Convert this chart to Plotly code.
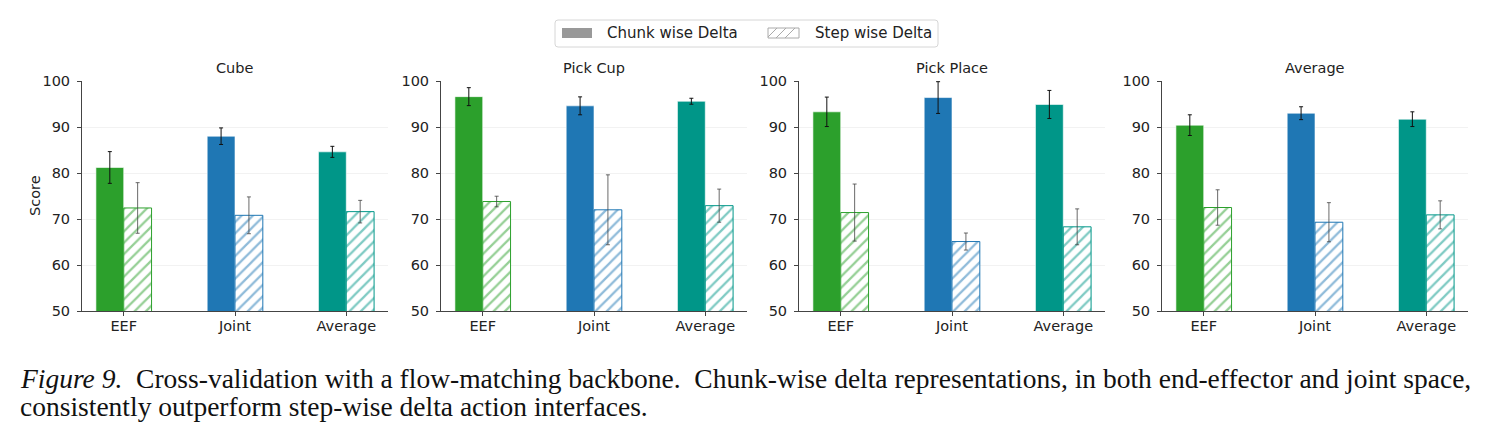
import plotly.graph_objects as go

# ---------------- data ----------------
panels = ["Cube", "Pick Cup", "Pick Place", "Average"]
categories = ["EEF", "Joint", "Average"]
series_names = ["Chunk wise Delta", "Step wise Delta"]

chunk_vals = [
    [81.2, 88.0, 84.6],
    [96.6, 94.6, 95.6],
    [93.3, 96.4, 94.9],
    [90.4, 93.0, 91.7],
]
chunk_err = [
    [3.45, 1.8, 1.2],
    [1.95, 1.95, 0.65],
    [3.2, 3.45, 3.05],
    [2.25, 1.4, 1.6],
]
step_vals = [
    [72.4, 70.8, 71.6],
    [73.8, 72.0, 72.9],
    [71.4, 65.1, 68.3],
    [72.5, 69.3, 70.9],
]
step_err = [
    [5.5, 4.0, 2.45],
    [1.15, 7.6, 3.6],
    [6.2, 1.85, 3.9],
    [3.85, 4.25, 3.05],
]
yticks = [50, 60, 70, 80, 90, 100]
cat_colors = ["#2ca02c", "#1f77b4", "#009688"]

caption_1 = ("<i>Figure 9.</i>&nbsp;&nbsp;Cross-validation with a flow-matching backbone.&nbsp;&nbsp;"
             "Chunk-wise delta representations, in both end-effector and joint space,")
caption_2 = "consistently outperform step-wise delta action interfaces."

# ---------------- layout geometry ----------------
W, H = 1495, 438
lefts = [82, 441, 799, 1162]
pw = 306
y_dom = [1 - 311 / H, 1 - 81 / H]
font_family = "DejaVu Sans"
txt = "#222"

fig = go.Figure()

for i, name in enumerate(panels):
    xa = "x" if i == 0 else f"x{i+1}"
    ya = "y" if i == 0 else f"y{i+1}"
    fig.add_trace(go.Bar(
        x=categories, y=chunk_vals[i], xaxis=xa, yaxis=ya, name=series_names[0],
        marker=dict(color=cat_colors, line=dict(color="rgba(255,255,255,0.6)", width=1)),
        error_y=dict(type="data", array=chunk_err[i], color="#111", thickness=1, width=2),
        showlegend=False, offsetgroup="a",
    ))
    fig.add_trace(go.Bar(
        x=categories, y=step_vals[i], xaxis=xa, yaxis=ya, name=series_names[1],
        marker=dict(color="white", line=dict(color=cat_colors, width=1),
                    pattern=dict(shape="/", fgcolor=cat_colors, bgcolor="white",
                                 size=8, solidity=0.28, fillmode="overlay")),
        error_y=dict(type="data", array=step_err[i], color="#444", thickness=0.8, width=2),
        showlegend=False, offsetgroup="b",
    ))
    dom = [lefts[i] / W, (lefts[i] + pw) / W]
    axis_common = dict(showline=True, linecolor="#444", linewidth=1, automargin=False,
                       ticks="outside", ticklen=4, tickcolor="#444",
                       tickfont=dict(family=font_family, size=14.5, color=txt))
    fig.layout[("xaxis" if i == 0 else f"xaxis{i+1}")] = dict(
        domain=dom, anchor=ya, type="category", range=[-0.375, 2.375],
        showgrid=False, ticklabelstandoff=-2, **axis_common)
    fig.layout[("yaxis" if i == 0 else f"yaxis{i+1}")] = dict(
        domain=y_dom, anchor=xa, range=[50, 100], tickvals=yticks,
        showgrid=True, gridcolor="#f2f2f2", gridwidth=1, zeroline=False,
        ticklabelstandoff=4, **axis_common)
    fig.add_annotation(x=(lefts[i] + pw / 2) / W, y=1 - 68 / H, xref="paper", yref="paper",
                       text=name, showarrow=False, xanchor="center", yanchor="middle",
                       font=dict(family=font_family, size=14.5, color=txt))

fig.add_annotation(x=35 / W, y=(y_dom[0] + y_dom[1]) / 2, xref="paper", yref="paper",
                   text="Score", textangle=-90, showarrow=False, xanchor="center",
                   yanchor="middle", font=dict(family=font_family, size=14.5, color=txt))

# ---------------- legend (drawn in paper coordinates) ----------------
def px(xp):
    return xp / W


def py(yp):
    return 1 - yp / H


lx0, lx1, ly0, ly1, r = 555, 938, 20, 47, 3
box_path = (f"M {px(lx0 + r)},{py(ly0)} L {px(lx1 - r)},{py(ly0)} "
            f"Q {px(lx1)},{py(ly0)} {px(lx1)},{py(ly0 + r)} L {px(lx1)},{py(ly1 - r)} "
            f"Q {px(lx1)},{py(ly1)} {px(lx1 - r)},{py(ly1)} L {px(lx0 + r)},{py(ly1)} "
            f"Q {px(lx0)},{py(ly1)} {px(lx0)},{py(ly1 - r)} L {px(lx0)},{py(ly0 + r)} "
            f"Q {px(lx0)},{py(ly0)} {px(lx0 + r)},{py(ly0)} Z")
fig.add_shape(type="path", path=box_path, xref="paper", yref="paper",
              line=dict(color="#d6d6d6", width=1), fillcolor="rgba(255,255,255,0.9)", layer="above")

sw_y0, sw_y1 = 28, 38
fig.add_shape(type="rect", xref="paper", yref="paper", x0=px(562), x1=px(592), y0=py(sw_y1), y1=py(sw_y0),
              fillcolor="#999999", line=dict(width=0), layer="above")
fig.add_shape(type="rect", xref="paper", yref="paper", x0=px(768), x1=px(799), y0=py(sw_y1), y1=py(sw_y0),
              fillcolor="white", line=dict(color="#aaaaaa", width=1), layer="above")
for k in range(4):
    xs = 768 + k * 9
    xa0 = max(xs - 10, 768)
    ya0 = sw_y1 - (xa0 - (xs - 10))
    xa1 = min(xs, 799)
    ya1 = sw_y0 + (xs - xa1)
    fig.add_shape(type="line", xref="paper", yref="paper", x0=px(xa0), y0=py(ya0),
                  x1=px(xa1), y1=py(ya1), line=dict(color="#aaaaaa", width=1), layer="above")

fig.add_annotation(x=px(605), y=py(33), xref="paper", yref="paper", text=series_names[0],
                   showarrow=False, xanchor="left", yanchor="middle",
                   font=dict(family=font_family, size=15, color=txt))
fig.add_annotation(x=px(813), y=py(33), xref="paper", yref="paper", text=series_names[1],
                   showarrow=False, xanchor="left", yanchor="middle",
                   font=dict(family=font_family, size=15, color=txt))

# ---------------- caption ----------------
fig.add_annotation(x=18 / W, y=1 - 378 / H, xref="paper", yref="paper", text=caption_1,
                   showarrow=False, xanchor="left", yanchor="middle",
                   font=dict(family="Liberation Serif", size=27.5, color="#111"))
fig.add_annotation(x=18 / W, y=1 - 406 / H, xref="paper", yref="paper", text=caption_2,
                   showarrow=False, xanchor="left", yanchor="middle",
                   font=dict(family="Liberation Serif", size=27.5, color="#111"))

fig.update_layout(
    width=W, height=H, margin=dict(l=0, r=0, t=0, b=0, autoexpand=False),
    paper_bgcolor="white", plot_bgcolor="white",
    barmode="group", bargap=0.5, bargroupgap=0,
    showlegend=False,
    font=dict(family=font_family),
)

fig.write_html("out.html")
